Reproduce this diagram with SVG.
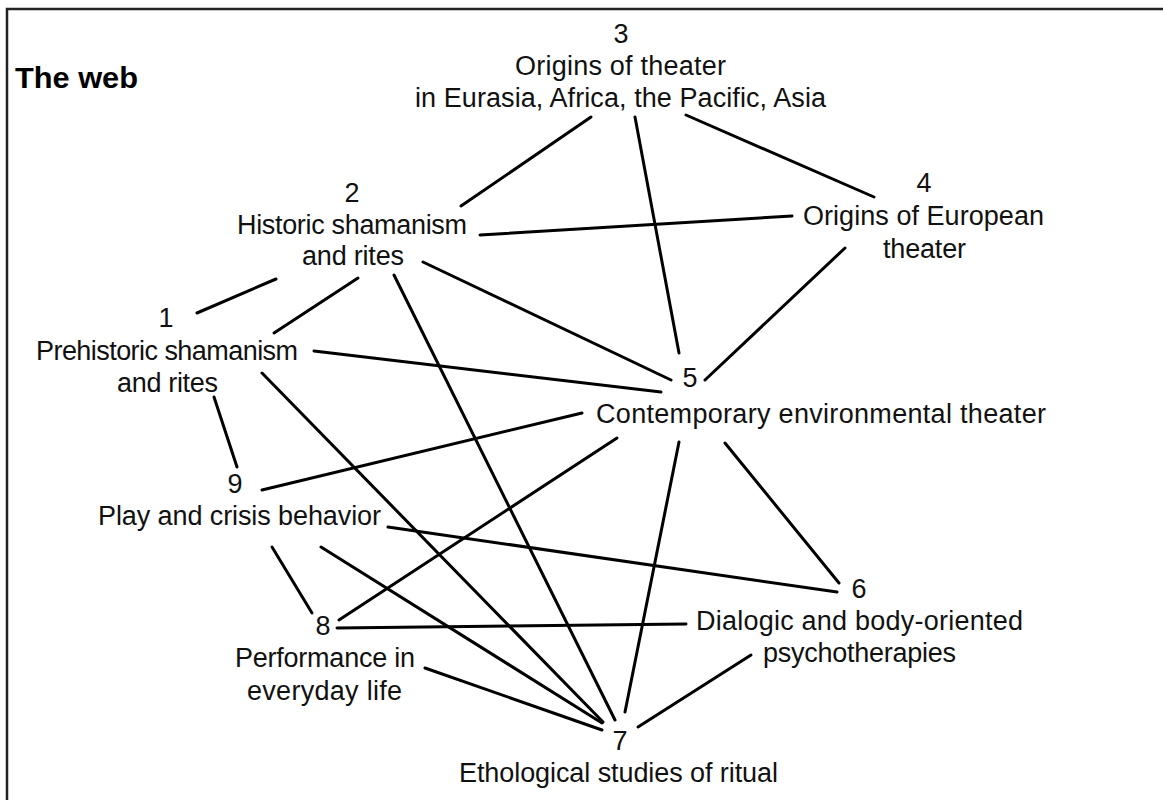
<svg xmlns="http://www.w3.org/2000/svg" width="1163" height="800" viewBox="0 0 1163 800">
  <style>
    .lbl { font-family: "Liberation Sans", Arial, sans-serif; font-size: 27px; fill: #111; text-anchor: middle; }
    .title { font-family: "Liberation Sans", Arial, sans-serif; font-size: 29px; font-weight: 900; fill: #000; }
    .edge { stroke: #000; stroke-width: 3; stroke-linecap: round; fill: none; }
    .frame { stroke: #222; stroke-width: 2.5; fill: none; }
  </style>

  <rect width="1163" height="800" fill="#fff"/>
  <!-- open frame: top and left rules only -->
  <path class="frame" d="M7,800 V9 H1163"/>

  <text class="title" x="15" y="88" textLength="123" lengthAdjust="spacingAndGlyphs">The web</text>

  <!-- connectors -->
  <g id="connectors">
    <line class="edge" x1="591" y1="117" x2="461" y2="206"/>
    <line class="edge" x1="635" y1="117" x2="679" y2="353"/>
    <line class="edge" x1="686" y1="115" x2="874" y2="197"/>
    <line class="edge" x1="480" y1="235" x2="792" y2="216"/>
    <line class="edge" x1="845" y1="248" x2="705" y2="380"/>
    <line class="edge" x1="276" y1="279" x2="197" y2="313"/>
    <line class="edge" x1="358" y1="278" x2="274" y2="333"/>
    <line class="edge" x1="394" y1="275" x2="615" y2="720"/>
    <line class="edge" x1="423" y1="262" x2="671" y2="380"/>
    <line class="edge" x1="314" y1="351" x2="661" y2="392"/>
    <line class="edge" x1="262" y1="373" x2="603" y2="722"/>
    <line class="edge" x1="214" y1="397" x2="237" y2="467"/>
    <line class="edge" x1="262" y1="490" x2="582" y2="413"/>
    <line class="edge" x1="617" y1="438" x2="339" y2="620"/>
    <line class="edge" x1="679" y1="442" x2="625" y2="712"/>
    <line class="edge" x1="725" y1="443" x2="839" y2="583"/>
    <line class="edge" x1="388" y1="527" x2="837" y2="592"/>
    <line class="edge" x1="272" y1="547" x2="312" y2="613"/>
    <line class="edge" x1="321" y1="547" x2="602" y2="723"/>
    <line class="edge" x1="337" y1="628" x2="686" y2="624"/>
    <line class="edge" x1="425" y1="668" x2="602" y2="730"/>
    <line class="edge" x1="751" y1="655" x2="638" y2="727"/>
  </g>

  <g id="node-3">
    <text class="lbl" x="621" y="43">3</text>
    <text class="lbl" x="620.5" y="75" textLength="211">Origins of theater</text>
    <text class="lbl" x="620.5" y="107" textLength="411">in Eurasia, Africa, the Pacific, Asia</text>
  </g>
  <g id="node-4">
    <text class="lbl" x="924" y="192">4</text>
    <text class="lbl" x="923.5" y="225" textLength="241">Origins of European</text>
    <text class="lbl" x="924.5" y="258" textLength="83">theater</text>
  </g>
  <g id="node-2">
    <text class="lbl" x="352" y="202">2</text>
    <text class="lbl" x="352" y="234" textLength="230">Historic shamanism</text>
    <text class="lbl" x="353" y="265" textLength="102">and rites</text>
  </g>
  <g id="node-1">
    <text class="lbl" x="166" y="327">1</text>
    <text class="lbl" x="167" y="360" textLength="262">Prehistoric shamanism</text>
    <text class="lbl" x="167.5" y="392" textLength="101">and rites</text>
  </g>
  <g id="node-5">
    <text class="lbl" x="690" y="387">5</text>
    <text class="lbl" x="821" y="423" textLength="450">Contemporary environmental theater</text>
  </g>
  <g id="node-9">
    <text class="lbl" x="235" y="493">9</text>
    <text class="lbl" x="239.5" y="525" textLength="283">Play and crisis behavior</text>
  </g>
  <g id="node-6">
    <text class="lbl" x="859" y="598">6</text>
    <text class="lbl" x="859.5" y="630" textLength="327">Dialogic and body-oriented</text>
    <text class="lbl" x="859.5" y="662" textLength="193">psychotherapies</text>
  </g>
  <g id="node-8">
    <text class="lbl" x="323" y="635">8</text>
    <text class="lbl" x="325" y="667" textLength="180">Performance in</text>
    <text class="lbl" x="324.5" y="700" textLength="155">everyday life</text>
  </g>
  <g id="node-7">
    <text class="lbl" x="620" y="750">7</text>
    <text class="lbl" x="618.5" y="782" textLength="319">Ethological studies of ritual</text>
  </g>
</svg>
